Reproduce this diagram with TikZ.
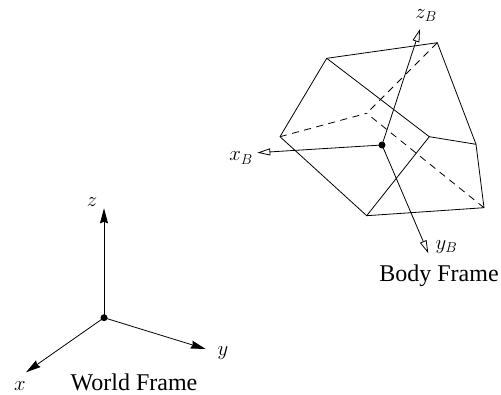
\documentclass[tikz,border=0pt]{standalone}
\usepackage{fontspec}
\setmainfont{Liberation Serif}
\usetikzlibrary{arrows.meta}
\tikzset{
  edge/.style={line width=0.8pt, line cap=round, line join=round},
  hidden/.style={line width=0.8pt, dash pattern=on 7pt off 5.5pt},
  world/.style={line width=0.8pt, -{Stealth[length=15pt,width=8pt,inset=1.5pt]}},
  body/.style={line width=0.8pt, -{Triangle[open,fill=white,length=13pt,width=7pt]}},
  dot/.style={circle, fill=black, inner sep=0pt, minimum size=7pt},
  lab/.style={inner sep=0pt, font=\fontsize{20}{24}\selectfont},
  captext/.style={inner sep=0pt, anchor=base, font=\fontsize{24}{28}\selectfont},
}
\begin{document}
\begin{tikzpicture}[x=1pt,y=-1pt]
\useasboundingbox (0,0) rectangle (501,394);
% body
\coordinate (A) at (326.7,58.3);
\coordinate (B) at (437.3,42.7);
\coordinate (C) at (476,144.3);
\coordinate (D) at (484,207.7);
\coordinate (E) at (366.7,215.7);
\coordinate (F) at (280,136.7);
\coordinate (G) at (429.3,136.7);
\coordinate (H) at (366.7,113.3);
\draw[edge] (F) -- (A) -- (B) -- (C) -- (D) -- (E) -- (F);
\draw[edge] (A) -- (G) -- (C);
\draw[edge] (G) -- (E);
\draw[hidden] (F) -- (H);
\draw[hidden] (B) -- (H);
\draw[hidden] (D) -- (H);
\node[dot] (o) at (382,145) {};
\coordinate (zb) at (420,29);
\coordinate (xb) at (257.3,152.7);
\coordinate (yb) at (428.3,253.3);
\draw[body] (o.center) -- (zb);
\draw[body] (o.center) -- (xb);
\draw[body] (o.center) -- (yb);
\node[lab] (lzb) at (426,15.5) {$z_B$};
\node[lab] (lxb) at (241,158) {$x_B$};
\node[lab] (lyb) at (446.5,247) {$y_B$};
\node[captext] (bf) at (439,281) {Body Frame};
% world
\node[dot] (w) at (104,317.7) {};
\coordinate (zw) at (104,208.3);
\coordinate (yw) at (205.7,349);
\coordinate (xw) at (26,372.3);
\draw[world] (w.center) -- (zw);
\draw[world] (w.center) -- (yw);
\draw[world] (w.center) -- (xw);
\node[lab] (lz) at (92,202) {$z$};
\node[lab] (ly) at (223,353) {$y$};
\node[lab] (lx) at (20,386) {$x$};
\node[captext] (wf) at (134,390) {World Frame};
\end{tikzpicture}
\end{document}
